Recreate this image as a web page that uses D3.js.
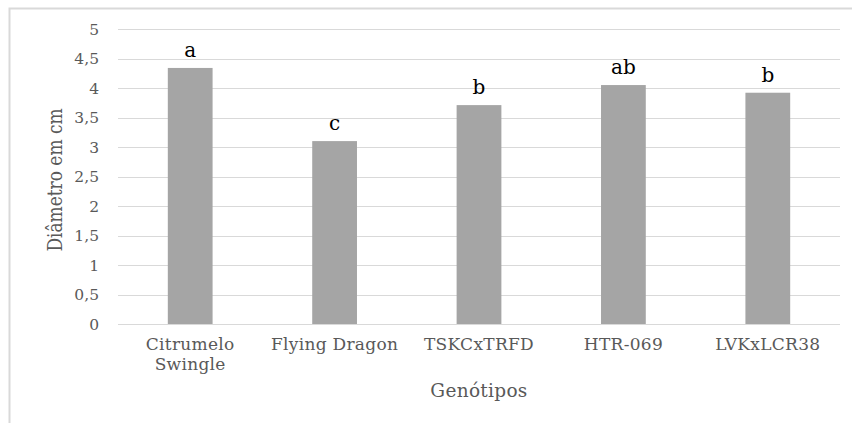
<!DOCTYPE html>
<html lang="pt">
  <head>
    <meta charset="UTF-8" />
    <title>Diâmetro por genótipo</title>
    <style>
      body { margin: 0; background: #fff; }
      .grid line { stroke: #d9d9d9; stroke-width: 1; shape-rendering: crispEdges; }
      .grid path { display: none; }
    </style>
  </head>
  <body>
    <div class="chart"></div>
    <script src="https://d3js.org/d3.v7.min.js"></script>
    <script>
      // dados
      const genotipos = [["Citrumelo", "Swingle"], ["Flying Dragon"], ["TSKCxTRFD"], ["HTR-069"], ["LVKxLCR38"]];
      const diametros = [4.34, 3.10, 3.71, 4.05, 3.92];
      const letras = ["a", "c", "b", "ab", "b"];
      const yTicks = [0, 0.5, 1, 1.5, 2, 2.5, 3, 3.5, 4, 4.5, 5];

      const W = 852, H = 423;
      const margin = { top: 29, right: 12, bottom: 99, left: 118 };
      const serif = "'DejaVu Serif', serif";

      const svg = d3.select(".chart").append("svg")
        .attr("width", W).attr("height", H)
        .attr("font-family", serif)
        .style("font-family", serif);

      // moldura
      svg.append("path")
        .attr("d", `M9.5,${H + 5}V8.5H${W + 5}`)
        .attr("fill", "none").attr("stroke", "#d9d9d9").attr("stroke-width", 2);

      const x = d3.scaleBand()
        .domain(d3.range(genotipos.length))
        .range([margin.left, W - margin.right])
        .paddingInner(0.69).paddingOuter(0.345);

      const y = d3.scaleLinear().domain([0, 5]).range([H - margin.bottom, margin.top]);

      // linhas de grade
      svg.append("g").attr("class", "grid")
        .attr("transform", `translate(${margin.left},0)`)
        .call(d3.axisLeft(y).tickValues(yTicks)
          .tickSize(-(W - margin.right - margin.left)).tickFormat(""));

      // rótulos do eixo Y
      svg.append("g").selectAll("text").data(yTicks).enter().append("text")
        .attr("x", margin.left - 19).attr("y", d => y(d))
        .attr("dy", "0.36em").attr("text-anchor", "end")
        .attr("font-size", 15.5).attr("fill", "#595959")
        .text(d => String(d).replace(".", ","));

      // barras
      svg.append("g").selectAll("rect").data(diametros).enter().append("rect")
        .attr("x", (d, i) => x(i)).attr("width", x.bandwidth())
        .attr("y", d => y(d)).attr("height", d => y(0) - y(d))
        .attr("fill", "#a5a5a5");

      // letras de significância
      svg.append("g").selectAll("text").data(diametros).enter().append("text")
        .attr("x", (d, i) => x(i) + x.bandwidth() / 2)
        .attr("y", d => y(d) - 11)
        .attr("text-anchor", "middle").attr("font-size", 20).attr("fill", "#000")
        .text((d, i) => letras[i]);

      // rótulos do eixo X
      const xl = svg.append("g").selectAll("text").data(genotipos).enter().append("text")
        .attr("x", (d, i) => x(i) + x.bandwidth() / 2)
        .attr("y", y(0) + 26)
        .attr("text-anchor", "middle").attr("font-size", 17).attr("fill", "#595959")
        .attr("letter-spacing", 0.3);
      xl.selectAll("tspan").data(d => d).enter().append("tspan")
        .attr("x", function () { return this.parentNode.getAttribute("x"); })
        .attr("dy", (d, i) => (i === 0 ? 0 : 20))
        .text(d => d);

      // títulos dos eixos
      svg.append("text")
        .attr("x", 479).attr("y", 397)
        .attr("text-anchor", "middle").attr("font-size", 18.5).attr("fill", "#595959")
        .attr("letter-spacing", 0.3)
        .text("Genótipos");

      svg.append("text")
        .attr("transform", "translate(62,180) scale(1.25,1) rotate(-90)")
        .attr("text-anchor", "middle").attr("font-size", 17).attr("fill", "#595959")
        .text("Diâmetro em cm");
    </script>
  </body>
</html>
